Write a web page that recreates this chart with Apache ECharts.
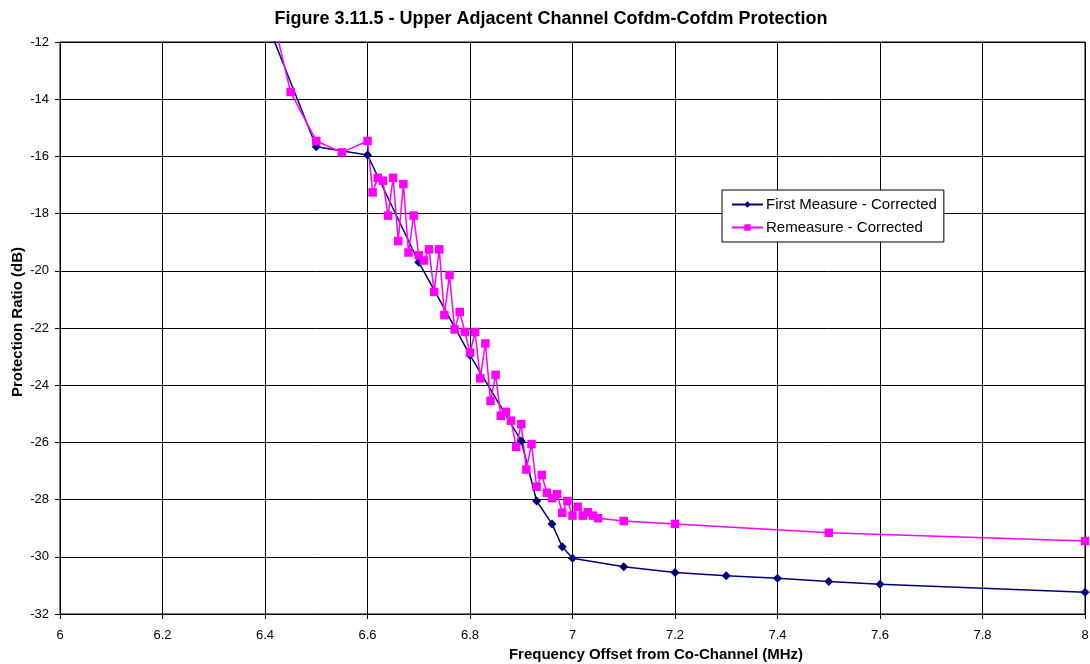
<!DOCTYPE html>
<html>
<head>
<meta charset="utf-8">
<script src="https://cdn.jsdelivr.net/npm/echarts@6/dist/echarts.min.js"></script>
<style>
  html, body { margin: 0; padding: 0; background: #fff; }
  #chart { width: 1090px; height: 664px; }
</style>
</head>
<body>
<div id="chart"></div>
<script>
// Frequency offsets (MHz) and protection ratios (dB)
const firstX = [6.4, 6.5, 6.6, 6.7, 6.8, 6.9, 6.93, 6.96, 6.98, 7.0, 7.1, 7.2, 7.3, 7.4, 7.5, 7.6, 8.0];
const firstY = [-11.15, -15.66, -15.95, -19.7, -22.95, -25.95, -28.05, -28.85, -29.65, -30.05, -30.35, -30.55, -30.66, -30.75, -30.86, -30.96, -31.24];

const remeasureX = [6.4, 6.45, 6.5, 6.55, 6.6,
  6.61, 6.62, 6.63, 6.64, 6.65, 6.66, 6.67, 6.68, 6.69, 6.70,
  6.71, 6.72, 6.73, 6.74, 6.75, 6.76, 6.77, 6.78, 6.79, 6.80,
  6.81, 6.82, 6.83, 6.84, 6.85, 6.86, 6.87, 6.88, 6.89, 6.90,
  6.91, 6.92, 6.93, 6.94, 6.95, 6.96, 6.97, 6.98, 6.99, 7.00,
  7.01, 7.02, 7.03, 7.04, 7.05, 7.1, 7.2, 7.5, 8.0];
const remeasureY = [-10.0, -13.75, -15.46, -15.86, -15.46,
  -17.26, -16.75, -16.85, -18.07, -16.75, -18.96, -16.97, -19.36, -18.07, -19.46,
  -19.64, -19.25, -20.74, -19.25, -21.55, -20.15, -22.05, -21.44, -22.14, -22.86,
  -22.14, -23.76, -22.54, -24.55, -23.64, -25.07, -24.93, -25.24, -26.16, -25.36,
  -26.95, -26.06, -27.55, -27.14, -27.76, -27.95, -27.81, -28.46, -28.05, -28.56,
  -28.25, -28.56, -28.44, -28.56, -28.65, -28.75, -28.85, -29.16, -29.45];

const seriesNames = ['First Measure - Corrected', 'Remeasure - Corrected'];
const chartTitle = 'Figure 3.11.5 - Upper Adjacent Channel Cofdm-Cofdm Protection';
const xTitle = 'Frequency Offset from Co-Channel (MHz)';
const yTitle = 'Protection Ratio (dB)';

const zip = (xs, ys) => xs.map((x, i) => [x, ys[i]]);
const FONT = '"Liberation Sans", Arial, sans-serif';

const chart = echarts.init(document.getElementById('chart'), null, { renderer: 'canvas' });
chart.setOption({
  animation: false,
  backgroundColor: '#fff',
  textStyle: { fontFamily: FONT },
  grid: {
    left: 60, right: 5, top: 42, bottom: 50,
    outerBoundsMode: 'none', containLabel: false,
    show: true, borderColor: '#000', borderWidth: 1, backgroundColor: '#fff'
  },
  graphic: [
    { type: 'text', x: 551, y: 19, style: { text: chartTitle, font: 'bold 18px ' + FONT, fill: '#000', align: 'center', verticalAlign: 'middle' } },
    { type: 'text', x: 656, y: 655, style: { text: xTitle, font: 'bold 15px ' + FONT, fill: '#000', align: 'center', verticalAlign: 'middle' } },
    { type: 'text', x: 18, y: 322, rotation: Math.PI / 2, style: { text: yTitle, font: 'bold 15px ' + FONT, fill: '#000', align: 'center', verticalAlign: 'middle' } }
  ],
  legend: {
    orient: 'vertical',
    left: 722, top: 190,
    padding: [6, 7, 6, 9],
    itemGap: 6,
    itemWidth: 31, itemHeight: 8,
    backgroundColor: '#fff',
    borderColor: '#000', borderWidth: 1, borderRadius: 0,
    textStyle: { fontFamily: FONT, fontSize: 15, lineHeight: 17, color: '#000', padding: [0, 0, 0, -2] },
    data: seriesNames
  },
  xAxis: {
    type: 'value', min: 6, max: 8, interval: 0.2,
    axisLine: { lineStyle: { color: '#000', width: 1 } },
    axisTick: { show: true, inside: false, length: 5, lineStyle: { color: '#000' } },
    axisLabel: { color: '#000', fontSize: 13, fontFamily: FONT, margin: 15 },
    splitLine: { show: true, lineStyle: { color: '#000', width: 1 } }
  },
  yAxis: {
    type: 'value', min: -32, max: -12, interval: 2,
    axisLine: { show: true, lineStyle: { color: '#000', width: 1 } },
    axisTick: { show: true, inside: false, length: 5, lineStyle: { color: '#000' } },
    axisLabel: { color: '#000', fontSize: 13, fontFamily: FONT, margin: 11 },
    splitLine: { show: true, lineStyle: { color: '#000', width: 1 } }
  },
  series: [
    {
      name: seriesNames[0], type: 'line', data: zip(firstX, firstY),
      clip: true,
      symbol: 'diamond', symbolSize: 9,
      lineStyle: { color: '#000080', width: 1.5 },
      itemStyle: { color: '#000080' }
    },
    {
      name: seriesNames[1], type: 'line', data: zip(remeasureX, remeasureY),
      clip: true,
      symbol: 'rect', symbolSize: 8.5,
      lineStyle: { color: '#FF00FF', width: 1.5 },
      itemStyle: { color: '#FF00FF' }
    }
  ]
});
</script>
</body>
</html>
